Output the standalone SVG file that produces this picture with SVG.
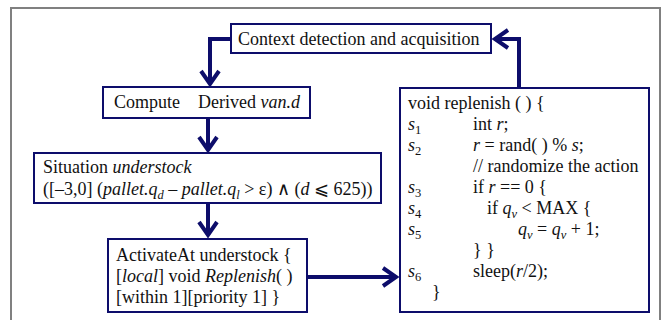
<svg xmlns="http://www.w3.org/2000/svg" width="666" height="320" viewBox="0 0 666 320">
<defs>
<style>
text{font-family:"Liberation Serif","Times New Roman",serif;font-size:18px;fill:#111}
.i{font-style:italic}
.sub{font-size:12.5px}
.box{fill:#fff;stroke:#0d0d6b;stroke-width:2}
.ln{fill:none;stroke:#0d0d6b;stroke-width:4;stroke-linejoin:miter}
.hd{fill:none;stroke:#0d0d6b;stroke-width:4;stroke-linecap:butt;stroke-linejoin:miter}
</style>
</defs>
<rect x="0" y="0" width="666" height="320" fill="#fff"/>
<rect x="11" y="8" width="649" height="330" fill="none" stroke="#808080" stroke-width="2"/>

<g id="connectors">
<path class="ln" d="M231,39 H210 V84"/>
<polyline class="hd" points="201,71 210,84 219,71"/>
<path class="ln" d="M208,118 V150"/>
<polyline class="hd" points="199,137 208,150 217,137"/>
<path class="ln" d="M208,204 V235"/>
<polyline class="hd" points="199,222 208,235 217,222"/>
<path class="ln" d="M307,277 H396"/>
<polyline class="hd" points="383,268 396,277 383,286"/>
<path class="ln" d="M519,88 V39 H495"/>
<polyline class="hd" points="508,30 495,39 508,48"/>
</g>

<g id="context">
<rect class="box" x="231" y="24" width="260" height="29"/>
<text x="238" y="45">Context detection and acquisition</text>
</g>

<g id="compute">
<rect class="box" x="103" y="87" width="207" height="31"/>
<text x="114" y="108">Compute</text>
<text x="198" y="108">Derived <tspan class="i">van.d</tspan></text>
</g>

<g id="situation">
<rect class="box" x="34" y="153" width="347" height="50"/>
<text x="43" y="173">Situation <tspan class="i">understock</tspan></text>
<text x="43" y="195">([–3,0] (<tspan class="i">pallet.q</tspan><tspan class="i sub" dy="4">d</tspan><tspan dy="-4"> – </tspan><tspan class="i">pallet.q</tspan><tspan class="i sub" dy="4">l</tspan><tspan dy="-4"> &gt; ε) ∧ (</tspan><tspan class="i">d</tspan> ⩽ 625))</text>
</g>

<g id="activate">
<rect class="box" x="108" y="239" width="199" height="73"/>
<text x="116" y="261">ActivateAt understock {</text>
<text x="116" y="282">[<tspan class="i">local</tspan>] void <tspan class="i">Replenish</tspan>( )</text>
<text x="116" y="303">[within 1][priority 1] }</text>
</g>

<g id="code">
<rect class="box" x="400" y="88" width="249" height="224"/>
<text x="408" y="109">void replenish ( ) {</text>
<text x="408" y="130"><tspan class="i">s</tspan><tspan class="sub" dy="4">1</tspan></text>
<text x="473" y="130">int <tspan class="i">r</tspan>;</text>
<text x="408" y="151"><tspan class="i">s</tspan><tspan class="sub" dy="4">2</tspan></text>
<text x="473" y="151"><tspan class="i">r</tspan> = rand( ) % <tspan class="i">s</tspan>;</text>
<text x="473" y="172">// randomize the action</text>
<text x="408" y="193"><tspan class="i">s</tspan><tspan class="sub" dy="4">3</tspan></text>
<text x="473" y="193">if <tspan class="i">r</tspan> == 0 {</text>
<text x="408" y="214"><tspan class="i">s</tspan><tspan class="sub" dy="4">4</tspan></text>
<text x="487" y="214">if <tspan class="i">q</tspan><tspan class="i sub" dy="4">v</tspan><tspan dy="-4"> &lt; MAX {</tspan></text>
<text x="408" y="235"><tspan class="i">s</tspan><tspan class="sub" dy="4">5</tspan></text>
<text x="518" y="235"><tspan class="i">q</tspan><tspan class="i sub" dy="4">v</tspan><tspan dy="-4"> = </tspan><tspan class="i">q</tspan><tspan class="i sub" dy="4">v</tspan><tspan dy="-4"> + 1;</tspan></text>
<text x="473" y="256">} }</text>
<text x="408" y="277"><tspan class="i">s</tspan><tspan class="sub" dy="4">6</tspan></text>
<text x="473" y="277">sleep(<tspan class="i">r</tspan>/2);</text>
<text x="432" y="298">}</text>
</g>
</svg>
